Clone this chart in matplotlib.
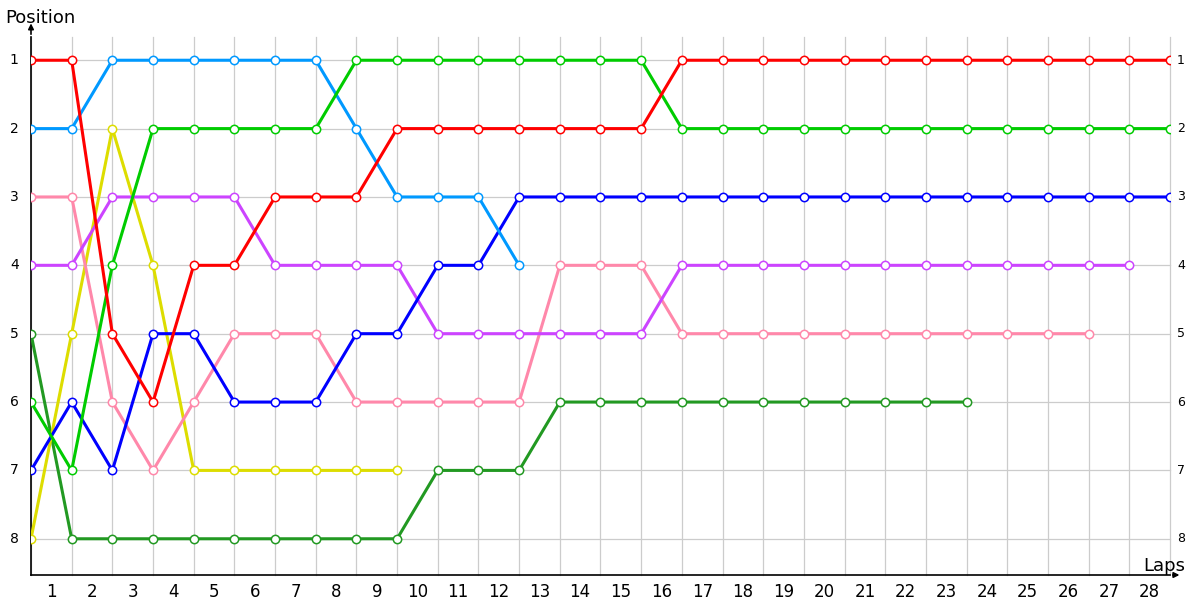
import matplotlib
matplotlib.use("Agg")
import matplotlib.pyplot as plt

# Positions par tour (index 0 = départ)
rouge = [1, 1, 5, 6, 4, 4, 3, 3, 3, 2, 2, 2, 2, 2, 2, 2, 1, 1, 1, 1, 1, 1, 1, 1, 1, 1, 1, 1, 1]
bleu_clair = [2, 2, 1, 1, 1, 1, 1, 1, 2, 3, 3, 3, 4]
vert = [6, 7, 4, 2, 2, 2, 2, 2, 1, 1, 1, 1, 1, 1, 1, 1, 2, 2, 2, 2, 2, 2, 2, 2, 2, 2, 2, 2, 2]
jaune = [8, 5, 2, 4, 7, 7, 7, 7, 7, 7]
rose = [3, 3, 6, 7, 6, 5, 5, 5, 6, 6, 6, 6, 6, 4, 4, 4, 5, 5, 5, 5, 5, 5, 5, 5, 5, 5, 5]
violet = [4, 4, 3, 3, 3, 3, 4, 4, 4, 4, 5, 5, 5, 5, 5, 5, 4, 4, 4, 4, 4, 4, 4, 4, 4, 4, 4, 4]
bleu = [7, 6, 7, 5, 5, 6, 6, 6, 5, 5, 4, 4, 3, 3, 3, 3, 3, 3, 3, 3, 3, 3, 3, 3, 3, 3, 3, 3, 3]
vert_fonce = [5, 8, 8, 8, 8, 8, 8, 8, 8, 8, 7, 7, 7, 6, 6, 6, 6, 6, 6, 6, 6, 6, 6, 6]

series = [
    (vert_fonce, '#229922'),
    (jaune, '#dddd00'),
    (rose, '#ff88aa'),
    (violet, '#cc44ff'),
    (bleu, '#0000ff'),
    (bleu_clair, '#0099ff'),
    (vert, '#00cc00'),
    (rouge, '#ff0000'),
]

nb_tours = 28
positions = list(range(1, 9))
tours_labels = [str(i) for i in range(1, nb_tours + 1)]

fig = plt.figure(figsize=(12, 6), dpi=100)
ax = fig.add_axes([31 / 1200, 25 / 600, 1139 / 1200, 538 / 600])

for valeurs, couleur in series:
    ax.plot(range(len(valeurs)), valeurs, color=couleur, lw=2.2,
            marker='o', ms=6, mfc='white', mec=couleur, mew=1.1, zorder=3)

ax.set_xlim(0, nb_tours)
ax.set_ylim(8.53, 0.66)

ax.set_xticks(range(nb_tours + 1))
ax.set_xticklabels([])
ax.set_yticks(positions)
ax.set_yticklabels([])
ax.tick_params(length=0)
ax.grid(True, color='#cccccc', lw=0.9, zorder=0)
for ligne in ax.get_xgridlines() + ax.get_ygridlines():
    ligne.set_clip_on(False)

for s in ['top', 'right']:
    ax.spines[s].set_visible(False)
for s in ['left', 'bottom']:
    ax.spines[s].set_color('black')
    ax.spines[s].set_linewidth(1.2)

# étiquettes des tours, centrées entre les lignes
for i, lab in enumerate(tours_labels):
    ax.text(i + 0.5, 8.53 + 0.12, lab, ha='center', va='top', fontsize=12, clip_on=False)

# étiquettes des positions
for p in positions:
    ax.text(-0.3, p, str(p), ha='right', va='center', fontsize=10, clip_on=False)
    ax.text(nb_tours + 0.17, p, str(p), ha='left', va='center', fontsize=9, clip_on=False)

# flèches des axes
ax.annotate('', xy=(0, 0.42), xytext=(0, 0.66), xycoords='data',
            arrowprops=dict(arrowstyle='-|>', color='black', lw=1.2, mutation_scale=8),
            annotation_clip=False)
ax.annotate('', xy=(nb_tours + 0.3, 8.53), xytext=(nb_tours, 8.53), xycoords='data',
            arrowprops=dict(arrowstyle='-|>', color='black', lw=1.2, mutation_scale=8),
            annotation_clip=False)

fig.text(5 / 1200, 1 - 18 / 600, 'Position', ha='left', va='center', fontsize=13)
fig.text(1185 / 1200, 1 - 566 / 600, 'Laps', ha='right', va='center', fontsize=13)

plt.savefig('out.png', dpi=100)
